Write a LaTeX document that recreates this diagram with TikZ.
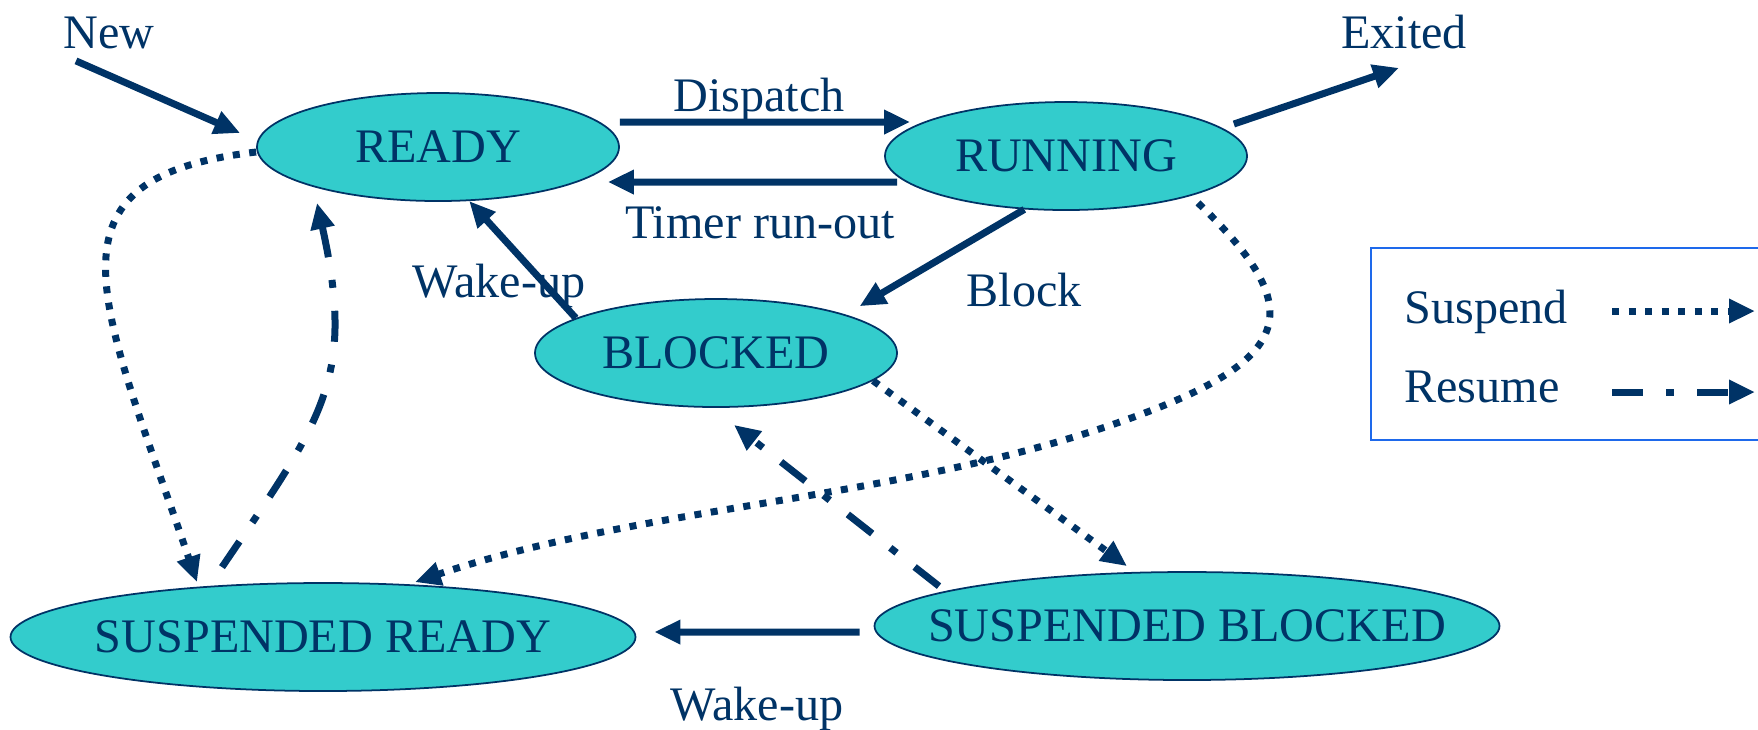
\documentclass[tikz,border=0pt]{standalone}
\usepackage{fontspec}
\setmainfont{Liberation Serif}
\usetikzlibrary{shapes.geometric,arrows.meta}
\definecolor{navy}{HTML}{003366}
\definecolor{turq}{HTML}{33CCCC}
\definecolor{legendblue}{RGB}{30,105,235}

\begin{document}
\begin{tikzpicture}[
    state/.style={ellipse, draw=navy, fill=turq, line width=0.5pt, minimum width=3.62cm, minimum height=1.08cm, inner sep=0pt, text=navy},
    wide/.style={state, minimum width=6.25cm},
    lbl/.style={anchor=base, text=navy},
    flow/.style={draw=navy, line width=0.07cm, -{Triangle[length=0.26cm,width=0.23cm]}},
    suspend/.style={flow, dash pattern=on 0.07cm off 0.095cm},
    resume/.style={flow, dash pattern=on 0.31cm off 0.23cm on 0.08cm off 0.23cm},
    font=\fontsize{13.7pt}{16pt}\selectfont
  ]
    \useasboundingbox (0,0) rectangle (17.58,-7.29);

    \node[draw=legendblue, line width=0.025cm, minimum width=4.3cm, minimum height=1.92cm, inner sep=0pt] (legend) at (15.86,-3.44) {};

    \node[state] (ready) at (4.38,-1.47) {\makebox[0pt]{READY}};
    \node[state] (running) at (10.66,-1.56) {\makebox[0pt]{RUNNING}};
    \node[state] (blocked) at (7.16,-3.53) {\makebox[0pt]{BLOCKED}};
    \node[wide] (sready) at (3.23,-6.37) {\makebox[0pt]{SUSPENDED READY}};
    \node[wide] (sblocked) at (11.87,-6.26) {\makebox[0pt]{SUSPENDED BLOCKED}};

    \node[lbl] (new) at (1.09,-0.48) {New};
    \node[lbl] (exited) at (14.04,-0.48) {Exited};
    \node[lbl] (dispatch) at (7.59,-1.11) {Dispatch};
    \node[lbl] (timer) at (7.60,-2.38) {Timer run-out};
    \node[lbl] (wakeup) at (4.99,-2.97) {Wake-up};
    \node[lbl] (block) at (10.24,-3.06) {Block};
    \node[lbl] (swakeup) at (7.57,-7.20) {Wake-up};
    \node[lbl, anchor=base west] (susp) at (13.92,-3.23) {Suspend};
    \node[lbl, anchor=base west] (res) at (13.92,-4.02) {Resume};

    \draw[flow] ([xshift=-3.3mm]new.south) -- ([shift={(-1.6mm,1.4mm)}]ready.west);
    \draw[flow] ([yshift=2.5mm]ready.east) -- ([shift={(2.6mm,3.4mm)}]running.west);
    \draw[flow] ([shift={(1.3mm,-2.6mm)}]running.west) -- ([shift={(-1.2mm,-3.5mm)}]ready.east);
    \draw[flow] ([shift={(-1.4mm,3.2mm)}]running.east) -- ([shift={(-0.5mm,-0.7mm)}]exited.south);
    \draw[flow] (running.232) -- ([shift={(1.5mm,0.8mm)}]blocked.north east);
    \draw[flow] (blocked.166) -- (ready.300);
    \draw[flow] ([shift={(-1.4mm,-0.6mm)}]sblocked.west) -- ([shift={(1.8mm,0.5mm)}]sready.east);

    \draw[suspend] ([yshift=-0.5mm]ready.west) .. controls +(-2.23,-0.26) and +(-0.97,2.83) .. ([xshift=-12.6mm]sready.north);
    \draw[suspend] ([shift={(1.32,0.08)}]running.south) .. controls +(1.01,-0.97) and +(1.40,0.56) .. (11.60,-4.07)
      .. controls +(-2.33,-0.93) and +(2.37,0.8) .. ([xshift=9.2mm]sready.north);
    \draw[suspend] (blocked.350) -- ([shift={(-6mm,0.5mm)}]sblocked.north);

    \draw[resume] ([shift={(-1.01,0.15)}]sready.north) .. controls +(1.01,1.49) and +(0.39,-1.76) .. ([shift={(-1.21,-0.01)}]ready.south);
    \draw[resume] ([shift={(-2.48,-0.15)}]sblocked.north) -- ([shift={(0.18,-0.17)}]blocked.south);

    \coordinate (susA) at (16.12,-3.11);
    \coordinate (susB) at (17.55,-3.11);
    \coordinate (resA) at (16.12,-3.92);
    \coordinate (resB) at (17.55,-3.92);
    \draw[suspend] (susA) -- (susB);
    \draw[resume] (resA) -- (resB);

  \end{tikzpicture}
\end{document}
